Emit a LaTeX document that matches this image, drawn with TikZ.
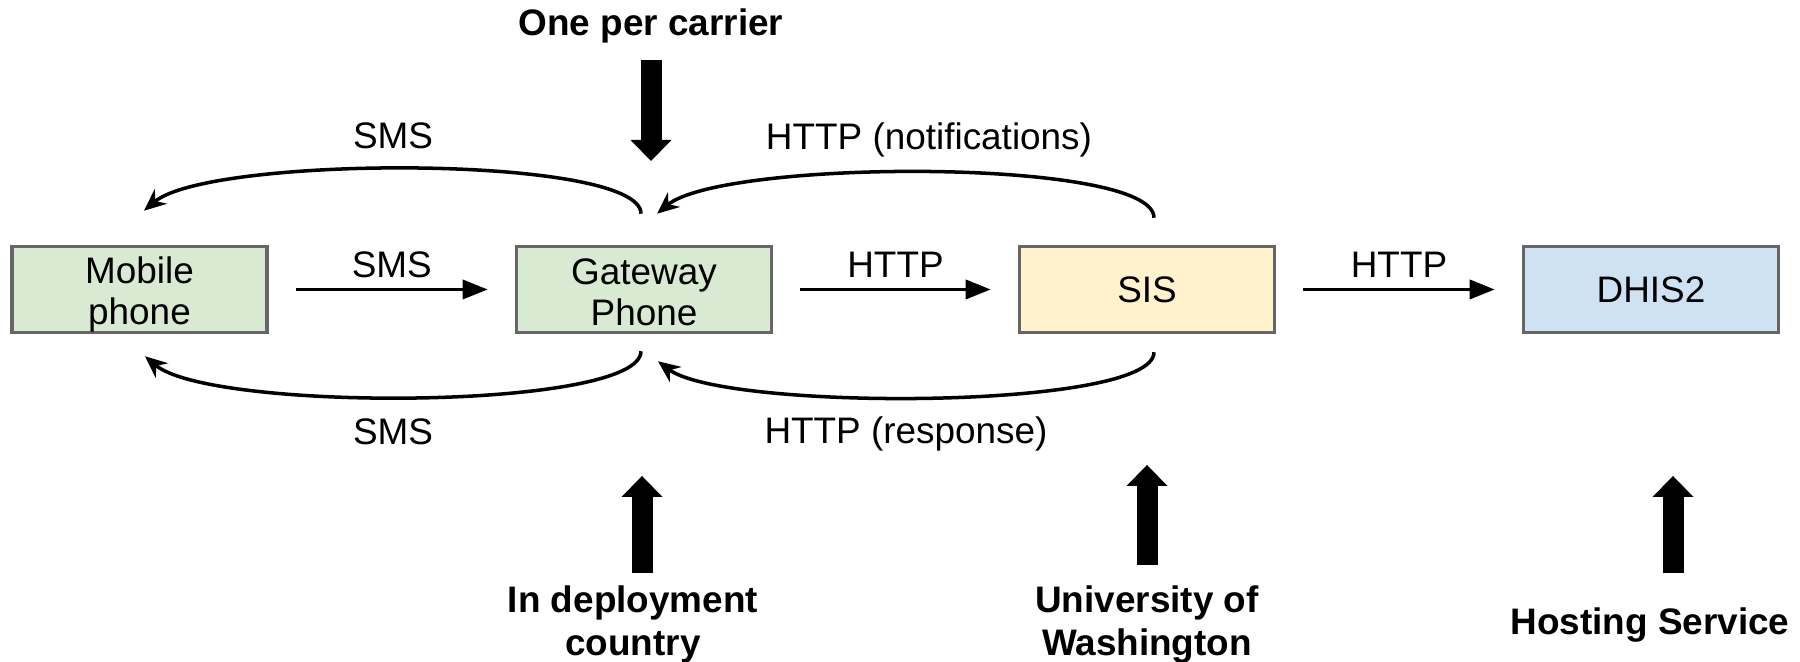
\documentclass[tikz,border=0pt]{standalone}
\usepackage{fontspec}
\setmainfont{Liberation Sans}
\usetikzlibrary{arrows.meta}
\definecolor{boxgreen}{HTML}{D9EAD3}
\definecolor{boxyellow}{HTML}{FFF2CC}
\definecolor{boxblue}{HTML}{CFE2F3}
\definecolor{boxline}{HTML}{666666}
% struts for the two-line boxes
\newcommand{\hitop}{\rule{0pt}{10.5pt}}
\newcommand{\lodep}{\rule[-1.9pt]{0pt}{1.9pt}}

\begin{document}
\begin{tikzpicture}[
    font=\fontsize{10.5}{11.7}\selectfont,
    box/.style={draw=boxline, line width=1pt, minimum width=2.55cm, minimum height=0.86cm, inner sep=0pt, align=center},
    conn/.style={line width=1pt, -{Triangle[length=0.25cm,width=0.19cm]}},
    loopconn/.style={line width=1pt, -{Stealth[length=0.22cm,width=0.19cm]}},
    bigarrow/.style={line width=0.21cm, -{Triangle[length=0.21cm,width=0.41cm,line width=0pt]}},
    lbl/.style={midway, anchor=base, yshift=0.12cm},
    who/.style={font=\fontsize{10.5}{12.4}\selectfont\bfseries, align=center, inner sep=0pt}
]
    \useasboundingbox (0,0) rectangle (18,6.62);
    % the four systems
    \node[box, fill=boxgreen]  (mob)  at (1.395,3.725) {\hitop Mobile\\phone\lodep};
    \node[box, fill=boxgreen]  (gw)   at (6.44,3.725)  {\hitop Gateway\\Phone\lodep};
    \node[box, fill=boxyellow] (sis)  at (11.47,3.725) {SIS};
    \node[box, fill=boxblue]   (dhis) at (16.51,3.725) {DHIS2};
    % straight links
    \draw[conn, shorten <=0.27cm, shorten >=0.27cm] (mob) -- node[lbl] (smsIn) {SMS} (gw);
    \draw[conn, shorten <=0.27cm, shorten >=0.27cm] (gw) -- node[lbl] (httpIn) {HTTP} (sis);
    \draw[conn, shorten <=0.27cm, shorten >=0.27cm] (sis) -- node[lbl] (httpOut) {HTTP} (dhis);
    % loops over the top
    \draw[loopconn] ([xshift=-0.03cm,yshift=0.31cm]gw.north) .. controls +(0,0.59) and +(0.66,0.56) .. ([xshift=0.045cm,yshift=0.34cm]mob.north);
    \draw[loopconn] ([xshift=0.07cm,yshift=0.27cm]sis.north) .. controls +(0,0.6) and +(0.66,0.55) .. ([xshift=0.13cm,yshift=0.31cm]gw.north);
    \node[anchor=base] (smsTop) at (3.93,5.135) {SMS};
    \node[anchor=base] (httpNote) at (9.29,5.12) {HTTP (notifications)};
    % loops underneath
    \draw[loopconn] ([xshift=-0.03cm,yshift=-0.17cm]gw.south) .. controls +(0,-0.59) and +(0.66,-0.56) .. ([xshift=0.055cm,yshift=-0.22cm]mob.south);
    \draw[loopconn] ([xshift=0.07cm,yshift=-0.18cm]sis.south) .. controls +(0,-0.58) and +(0.66,-0.5) .. ([xshift=0.14cm,yshift=-0.27cm]gw.south);
    \node[anchor=base] (smsBot) at (3.93,2.17) {SMS};
    \node[anchor=base] (httpResp) at (9.06,2.18) {HTTP (response)};
    % who runs what
    \node[who, anchor=base] (carrier) at (6.51,6.26) {One per carrier};
    \node[who] (deploy) at (6.33,0.375) {In deployment\\country};
    \node[who] (univ) at (11.47,0.375) {University of\\Washington};
    \node[who, anchor=base] (host) at (16.50,0.27) {Hosting Service};
    \coordinate (carrierTip) at (6.51,5.01);
    \coordinate (deployTip) at (6.42,1.86);
    \coordinate (univTip) at (11.47,1.97);
    \coordinate (hostTip) at (16.73,1.86);
    \draw[bigarrow, shorten <=0.16cm] (carrier.south -| carrierTip) -- (carrierTip);
    \foreach \src/\tip/\gap in {deploy/deployTip/0.115cm, univ/univTip/0.2cm, host/hostTip/0.345cm}
    \draw[bigarrow, shorten <=\gap] (\src.north -| \tip) -- (\tip);
\end{tikzpicture}
\end{document}
